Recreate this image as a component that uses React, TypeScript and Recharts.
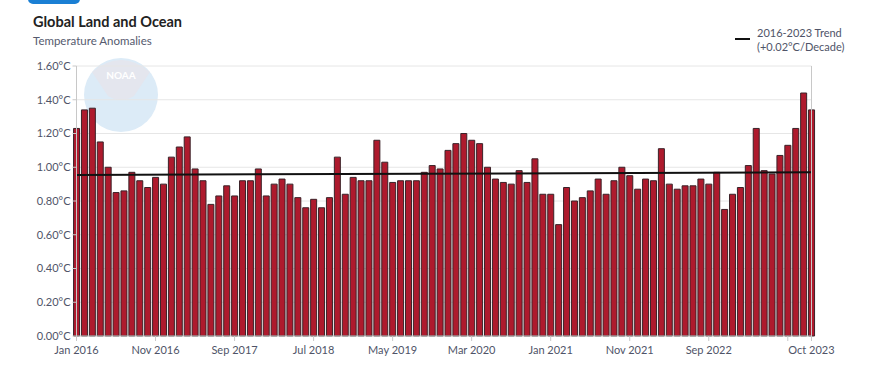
import { ComposedChart, Bar, Line, XAxis, YAxis, CartesianGrid } from 'recharts'

// monthly anomalies, Jan 2016 .. Oct 2023 (°C)
const months = ['Jan', 'Feb', 'Mar', 'Apr', 'May', 'Jun', 'Jul', 'Aug', 'Sep', 'Oct', 'Nov', 'Dec']
const startYear = 2016

const anomalies = [
  1.23, 1.34, 1.35, 1.15, 1.0, 0.85, 0.86, 0.97, 0.92, 0.88, 0.94, 0.9,
  1.06, 1.12, 1.18, 0.99, 0.92, 0.78, 0.83, 0.89, 0.83, 0.92, 0.92, 0.99,
  0.83, 0.9, 0.93, 0.9, 0.82, 0.76, 0.81, 0.76, 0.82, 1.06, 0.84, 0.94,
  0.92, 0.92, 1.16, 1.03, 0.91, 0.92, 0.92, 0.92, 0.97, 1.01, 0.99, 1.1,
  1.14, 1.2, 1.16, 1.14, 1.0, 0.93, 0.91, 0.9, 0.98, 0.91, 1.05, 0.84,
  0.84, 0.66, 0.88, 0.8, 0.82, 0.86, 0.93, 0.84, 0.92, 1.0, 0.95, 0.87,
  0.93, 0.92, 1.11, 0.9, 0.87, 0.89, 0.89, 0.93, 0.9, 0.97, 0.75, 0.84,
  0.88, 1.01, 1.23, 0.98, 0.96, 1.07, 1.13, 1.23, 1.44, 1.34,
]

// trend line end points (°C)
const trendStart = 0.954
const trendEnd = 0.97

const xTicks = [0, 10, 20, 30, 40, 50, 60, 70, 80, 90, 93]
const hiddenXTicks = [90]
const cTicks = [0, 0.2, 0.4, 0.6, 0.8, 1.0, 1.2, 1.4, 1.6]
const fTicks = [0, 0.36, 0.72, 1.08, 1.44, 1.8, 2.16, 2.52, 2.88]

const data = anomalies.map((value, i) => ({
  idx: i,
  value,
  trend: i === 0 ? trendStart : i === anomalies.length - 1 ? trendEnd : null,
}))

const monthLabel = (i: number) =>
  `${months[i % 12]} ${startYear + Math.floor(i / 12)}`

const font = 'Lato, "Open Sans", sans-serif'
const tickStyle = { fontSize: 11, fill: '#4f5468', fontFamily: font }
const axisColor = '#c8c8c8'

export default function App() {
  return (
    <div
      style={{
        position: 'absolute',
        left: 0,
        top: 0,
        width: 874,
        height: 369,
        background: '#fff',
        fontFamily: font,
        overflow: 'hidden',
      }}
    >
      <div
        style={{
          position: 'absolute',
          left: 28,
          top: -8,
          width: 52,
          height: 12,
          borderRadius: 5,
          background: '#1a7fd4',
        }}
      />
      <div style={{ position: 'absolute', left: 33, top: 13, fontSize: 14.5, fontWeight: 700, color: '#222' }}>
        Global Land and Ocean
      </div>
      <div style={{ position: 'absolute', left: 33, top: 34, fontSize: 11.5, color: '#555a6e' }}>
        Temperature Anomalies
      </div>

      <div style={{ position: 'absolute', left: 735, top: 38, width: 15, height: 2, background: '#111' }} />
      <div style={{ position: 'absolute', left: 757, top: 26, fontSize: 11, lineHeight: '14px', color: '#4f5468' }}>
        2016-2023 Trend
        <br />
        (+0.02°C/Decade)
      </div>

      {/* faint logo watermark */}
      <svg style={{ position: 'absolute', left: 0, top: 0 }} width={874} height={369}>
        <circle cx={121} cy={95} r={37} fill="#dcebf7" />
        <path d="M92 72 Q121 48 150 72 L134 96 Q121 104 108 96 Z" fill="#e4e6ee" />
        <text x={121} y={79} textAnchor="middle" fontSize={10} fontWeight={700} fill="#fff" fontFamily={font}>
          NOAA
        </text>
      </svg>

      <div style={{ position: 'absolute', left: 0, top: 0 }}>
        <ComposedChart
          width={874}
          height={369}
          data={data}
          margin={{ top: 66, right: 0, bottom: 3, left: 0 }}
        >
          <CartesianGrid vertical={false} stroke="#e6e6e6" yAxisId="c" />
          <XAxis
            dataKey="idx"
            type="number"
            domain={[0, 93]}
            ticks={xTicks}
            interval={0}
            tickFormatter={(v: number) => (hiddenXTicks.includes(v) ? '' : monthLabel(v))}
            tick={tickStyle}
            stroke={axisColor}
            tickSize={5}
            tickMargin={5}
            height={30}
          />
          <YAxis
            yAxisId="c"
            domain={[0, 1.6]}
            ticks={cTicks}
            interval={0}
            tickFormatter={(v: number) => `${v.toFixed(2)}°C`}
            tick={tickStyle}
            stroke={axisColor}
            tickSize={4}
            width={76.5}
          />
          <YAxis
            yAxisId="f"
            orientation="right"
            domain={[0, 2.88]}
            ticks={fTicks}
            interval={0}
            tickFormatter={(v: number) => `${v.toFixed(2)}°F`}
            tick={tickStyle}
            stroke={axisColor}
            tickSize={4}
            width={62.5}
          />
          <Bar
            yAxisId="c"
            dataKey="value"
            barSize={6}
            fill="#ae1a2d"
            stroke="#3a2228"
            strokeWidth={1}
            isAnimationActive={false}
          />
          <Line
            yAxisId="c"
            dataKey="trend"
            stroke="#111"
            strokeWidth={2}
            dot={false}
            connectNulls
            isAnimationActive={false}
          />
        </ComposedChart>
      </div>
    </div>
  )
}
